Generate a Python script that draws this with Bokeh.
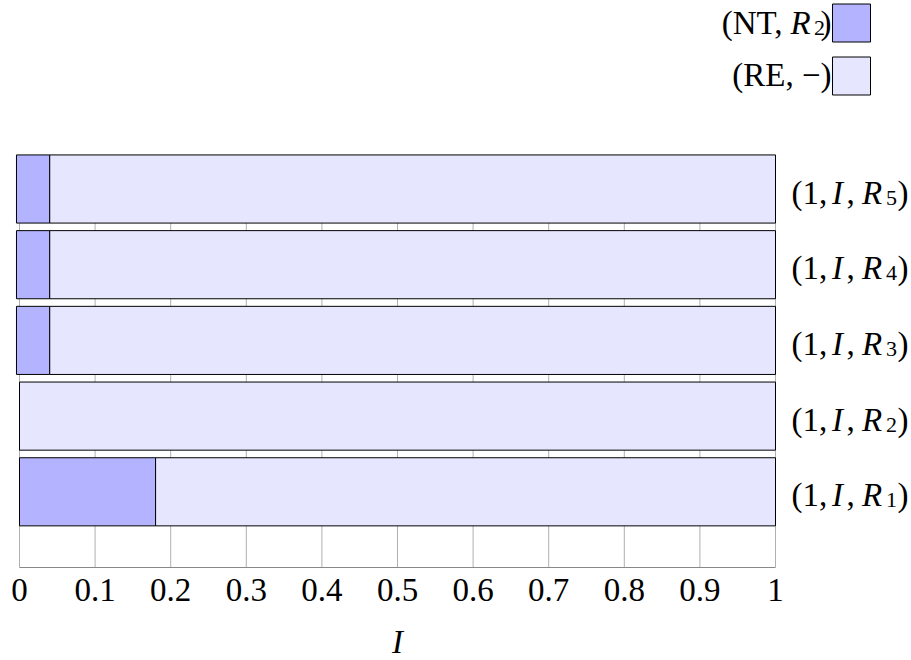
from bokeh.plotting import figure
from bokeh.layouts import column
from bokeh.models import (Range1d, LinearAxis, FixedTicker, ColumnDataSource)
from bokeh.core.properties import value
from bokeh.embed import file_html
from bokeh.resources import INLINE

# ---------------- data ----------------
rows = ["R1", "R2", "R3", "R4", "R5"]          # bottom -> top
row_subscripts = ["1", "2", "3", "4", "5"]
bar_start = [0.0, 0.0, -0.004, -0.004, -0.004]
nt_share = [0.18, 0.0, 0.044, 0.044, 0.044]     # (NT, R2)
re_share = [0.82, 1.0, 0.96, 0.96, 0.96]        # (RE, -)
x_ticks = [0.0, 0.1, 0.2, 0.3, 0.4, 0.5, 0.6, 0.7, 0.8, 0.9, 1.0]
x_tick_labels = ["0", "0.1", "0.2", "0.3", "0.4", "0.5", "0.6", "0.7", "0.8", "0.9", "1"]
x_title = "I"
series_names = ["NT", "RE"]
series_second = ["R", "\u2212"]
series_colors = ["#b3b3ff", "#e6e6ff"]

# ---------------- layout constants (pixels) ----------------
W = 911
H1 = 625                # main figure
H2 = 660 - H1           # strip with the axis title
PX_X0 = 19              # screen x of data x=0
PX_PER_X = 756.0
PX_Y0 = 567             # screen y of data y=0
PX_PER_Y = 75.7
BOTTOM = H1 - PX_Y0     # space under the frame for the axis
BL = 10.5               # baseline correction of text glyphs

def px2x(px):
    return (px - PX_X0) / PX_PER_X

def px2y(py):
    return (PX_Y0 - py) / PX_PER_Y

SERIF = value("Liberation Serif")
xr = Range1d(px2x(0), px2x(W))

p = figure(width=W, height=H1, output_backend="svg", toolbar_location=None,
           x_axis_type=None, y_axis_type=None,
           x_range=xr, y_range=Range1d(0, px2y(0)),
           min_border_left=0, min_border_right=0, min_border_top=0,
           min_border_bottom=BOTTOM)
p.outline_line_color = None
p.background_fill_color = "white"
p.border_fill_color = "white"

ypos = [i + 1 for i in range(len(rows))]
bar_h = 0.9
grid_top = len(rows) + bar_h / 2

# vertical grid lines (under the bars)
p.segment(x0=x_ticks, y0=[0] * len(x_ticks), x1=x_ticks, y1=[grid_top] * len(x_ticks),
          line_color="#b0b0b0", line_width=1)

nt_left = bar_start
nt_right = [s + a for s, a in zip(bar_start, nt_share)]
re_left = nt_right
re_right = [l + b for l, b in zip(re_left, re_share)]

src = ColumnDataSource(dict(y=ypos, nt_left=nt_left, nt_right=nt_right,
                            re_left=re_left, re_right=re_right))
p.hbar(y="y", left="nt_left", right="nt_right", height=bar_h, source=src,
       fill_color=series_colors[0], line_color="black", line_width=1)
p.hbar(y="y", left="re_left", right="re_right", height=bar_h, source=src,
       fill_color=series_colors[1], line_color="black", line_width=1)

# row labels (1, I, R_k)
FS = "33px"
SUBFS = "22px"
base = 14 - BL
lab_x = [1.0] * len(rows)
lsrc = ColumnDataSource(dict(x=lab_x, y=ypos, sub=row_subscripts,
                             a=["(1,"] * len(rows), i=["I"] * len(rows),
                             c=[","] * len(rows), r=["R"] * len(rows),
                             cl=[")"] * len(rows)))
p.text(x="x", y="y", text="a", source=lsrc, x_offset=16, y_offset=base,
       text_font=SERIF, text_font_size=FS, text_align="left", text_baseline="alphabetic",
       text_color="black")
p.text(x="x", y="y", text="i", source=lsrc, x_offset=62, y_offset=base,
       text_font=SERIF, text_font_style="italic", text_font_size=FS,
       text_align="center", text_baseline="alphabetic", text_color="black")
p.text(x="x", y="y", text="c", source=lsrc, x_offset=71, y_offset=base,
       text_font=SERIF, text_font_size=FS, text_align="left", text_baseline="alphabetic",
       text_color="black")
p.text(x="x", y="y", text="r", source=lsrc, x_offset=96.5, y_offset=base,
       text_font=SERIF, text_font_style="italic", text_font_size=FS,
       text_align="center", text_baseline="alphabetic", text_color="black")
p.text(x="x", y="y", text="sub", source=lsrc, x_offset=116, y_offset=base + 5,
       text_font=SERIF, text_font_size=SUBFS, text_align="center",
       text_baseline="alphabetic", text_color="black")
p.text(x="x", y="y", text="cl", source=lsrc, x_offset=127.5, y_offset=base,
       text_font=SERIF, text_font_size=FS, text_align="center", text_baseline="alphabetic",
       text_color="black")

# legend (top right)
leg_y = [px2y(22.5), px2y(75.5)]
leg_x = [px2x(851)] * 2
p.rect(x=leg_x, y=leg_y, width=38, height=38, width_units="screen", height_units="screen",
       fill_color=series_colors, line_color="black", line_width=1)
# row 1: (NT, R_2)
o1 = 10.5 - BL
p.text(x=[px2x(782)], y=[leg_y[0]], text=["(" + series_names[0] + ","], y_offset=o1,
       text_font=SERIF, text_font_size=FS, text_align="right", text_baseline="alphabetic")
p.text(x=[px2x(800)], y=[leg_y[0]], text=[series_second[0]], y_offset=o1,
       text_font=SERIF, text_font_style="italic", text_font_size=FS, text_align="center",
       text_baseline="alphabetic")
p.text(x=[px2x(819)], y=[leg_y[0]], text=[row_subscripts[1]], y_offset=o1 + 5,
       text_font=SERIF, text_font_size=SUBFS, text_align="center", text_baseline="alphabetic")
p.text(x=[px2x(831)], y=[leg_y[0]], text=[")"], y_offset=o1,
       text_font=SERIF, text_font_size=FS, text_align="right", text_baseline="alphabetic")
# row 2: (RE, -)
p.text(x=[px2x(831)], y=[leg_y[1]], text=["(" + series_names[1] + ", " + series_second[1] + ")"],
       y_offset=9.5 - BL, text_font=SERIF, text_font_size=FS, text_align="right",
       text_baseline="alphabetic")

# x axis
ax = LinearAxis(ticker=FixedTicker(ticks=x_ticks), bounds=(0, 1),
                major_label_overrides={t: s for t, s in zip(x_ticks, x_tick_labels)})
ax.major_tick_out = 0
ax.major_tick_in = 0
ax.minor_tick_out = 0
ax.minor_tick_in = 0
ax.axis_line_color = "#888888"
ax.axis_line_width = 1
ax.major_label_standoff = 11
ax.major_label_text_font = "Liberation Serif"
ax.major_label_text_font_size = FS
ax.major_label_text_color = "black"
p.add_layout(ax, "below")

# strip below with the axis title, sharing the x scale
strip = figure(width=W, height=H2, output_backend="svg", toolbar_location=None,
               x_axis_type=None, y_axis_type=None,
               x_range=xr, y_range=Range1d(H2, 0),
               min_border_left=0, min_border_right=0, min_border_top=0, min_border_bottom=0)
strip.outline_line_color = None
strip.background_fill_color = "white"
strip.border_fill_color = "white"
strip.text(x=[0.5], y=[652 - H1], text=[x_title], y_offset=-BL,
           text_font=SERIF, text_font_style="italic", text_font_size=FS,
           text_align="center", text_baseline="alphabetic", text_color="black")

layout = column(p, strip, spacing=0)
open("out.html", "w").write(file_html(layout, INLINE))
